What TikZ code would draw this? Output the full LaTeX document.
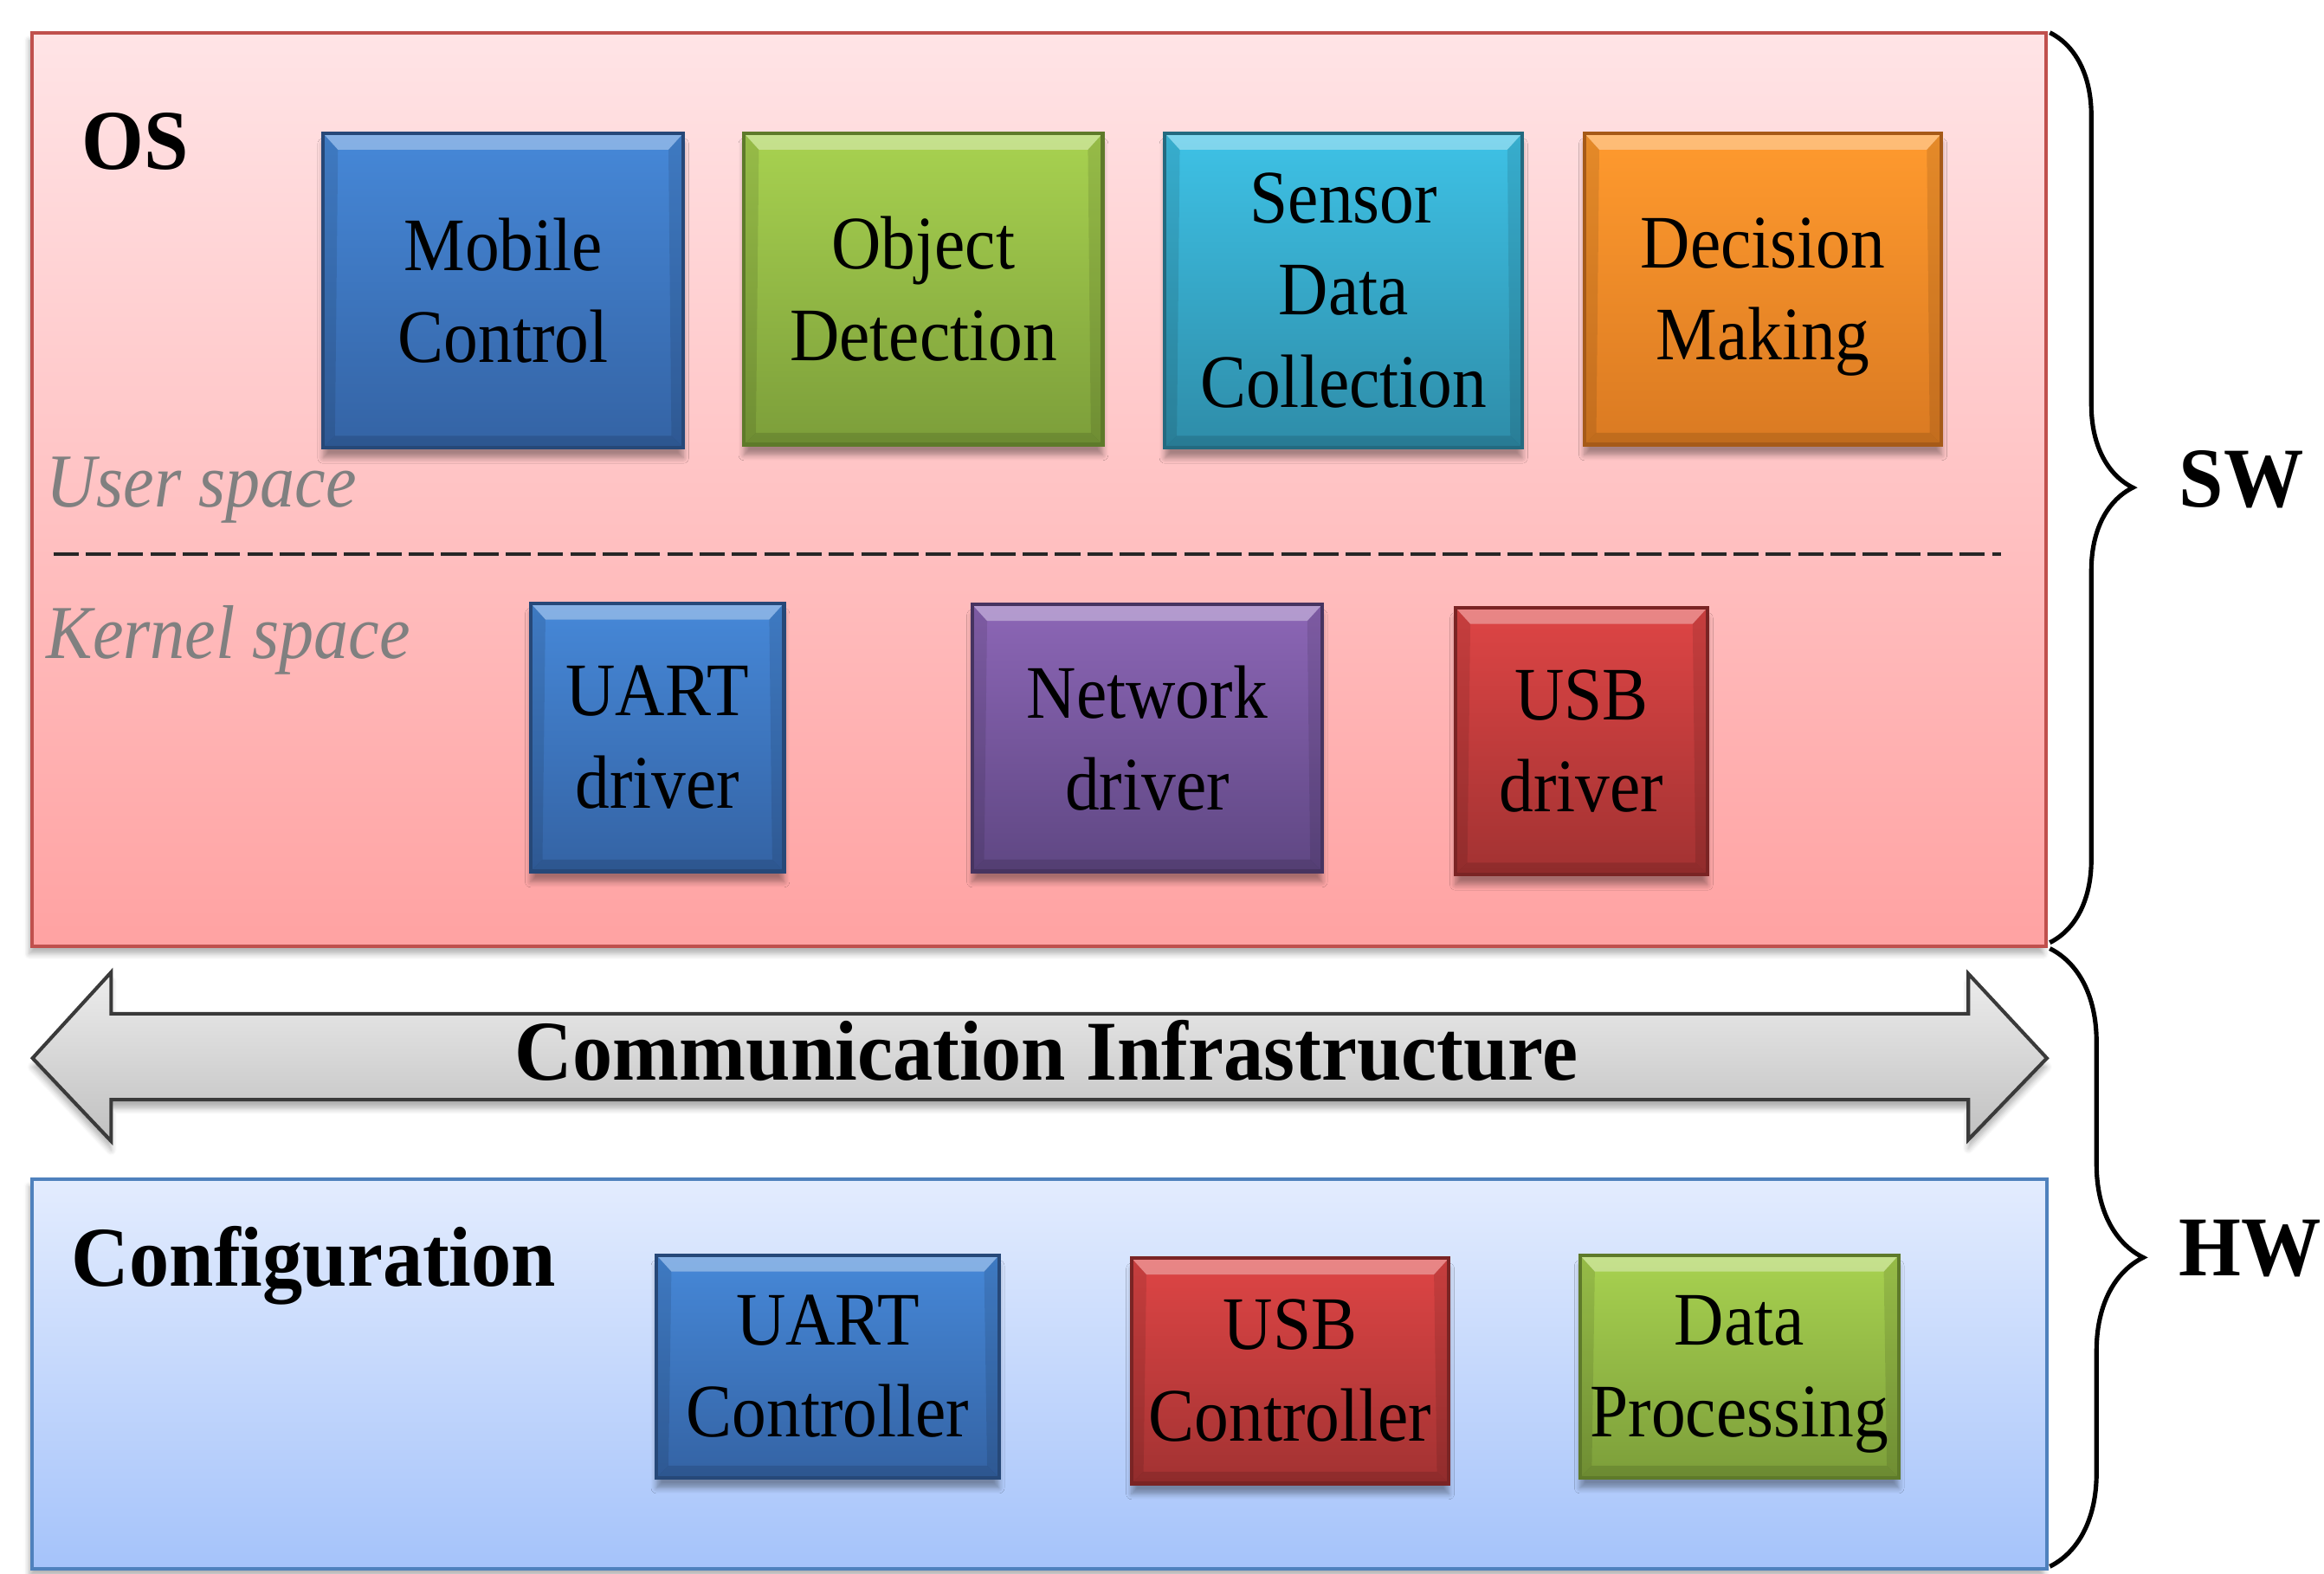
\documentclass[tikz,border=0pt]{standalone}
\usepackage{fontspec}
\setmainfont{Liberation Serif}[FakeStretch=0.91, BoldFeatures={FakeStretch=0.94}]
\usetikzlibrary{shadows.blur,decorations.pathreplacing}

\definecolor{osT}{HTML}{FFE4E6}
\definecolor{osB}{HTML}{FFA2A2}
\definecolor{osD}{HTML}{C0504D}
\definecolor{cfT}{HTML}{E3ECFE}
\definecolor{cfB}{HTML}{A5C3FA}
\definecolor{cfD}{HTML}{4F81BD}
\definecolor{bluT}{HTML}{4688D8}
\definecolor{bluB}{HTML}{3463A4}
\definecolor{bluD}{HTML}{264878}
\definecolor{grnT}{HTML}{A8D250}
\definecolor{grnB}{HTML}{7C9E3A}
\definecolor{grnD}{HTML}{5E7A2A}
\definecolor{cynT}{HTML}{3EC2E6}
\definecolor{cynB}{HTML}{2E8CA8}
\definecolor{cynD}{HTML}{236A80}
\definecolor{orgT}{HTML}{FF9A2E}
\definecolor{orgB}{HTML}{DA7A22}
\definecolor{orgD}{HTML}{A65A18}
\definecolor{purT}{HTML}{8C66B6}
\definecolor{purB}{HTML}{5F4783}
\definecolor{purD}{HTML}{463460}
\definecolor{redT}{HTML}{DE4545}
\definecolor{redB}{HTML}{A23232}
\definecolor{redD}{HTML}{7A2424}
\definecolor{arT}{HTML}{EDEDED}
\definecolor{arB}{HTML}{C0C0C0}
\definecolor{arD}{HTML}{3A3A3A}
\definecolor{lblgray}{HTML}{808080}

\newcommand\boxfont{\fontsize{25.5pt}{31pt}\selectfont}
\newcommand\lblfont{\fontsize{28.7pt}{34pt}\selectfont\bfseries}
\newcommand\itfont{\fontsize{25.7pt}{30pt}\selectfont\itshape}

\tikzset{
  colbox/.style={rectangle, draw=#1D, line width=1.2pt, top color=#1T, bottom color=#1B,
    align=center, inner sep=0pt, font=\boxfont, text=black,
    blur shadow={shadow xshift=0pt, shadow yshift=-3.5pt, shadow blur steps=6, shadow opacity=35},
    path picture={
      \fill[white,opacity=0.35] (path picture bounding box.north west) -- (path picture bounding box.north east)
        -- ([xshift=-5pt,yshift=-5.5pt]path picture bounding box.north east) -- ([xshift=5pt,yshift=-5.5pt]path picture bounding box.north west) -- cycle;
      \fill[black,opacity=0.12] (path picture bounding box.south west) -- (path picture bounding box.south east)
        -- ([xshift=-4pt,yshift=4pt]path picture bounding box.south east) -- ([xshift=4pt,yshift=4pt]path picture bounding box.south west) -- cycle;
      \fill[black,opacity=0.10] (path picture bounding box.north west) -- ([xshift=5pt,yshift=-5.5pt]path picture bounding box.north west)
        -- ([xshift=4pt,yshift=4pt]path picture bounding box.south west) -- (path picture bounding box.south west) -- cycle;
      \fill[black,opacity=0.10] (path picture bounding box.north east) -- ([xshift=-5pt,yshift=-5.5pt]path picture bounding box.north east)
        -- ([xshift=-4pt,yshift=4pt]path picture bounding box.south east) -- (path picture bounding box.south east) -- cycle;
    }},
  bigbox/.style={rectangle, draw=#1D, line width=1.2pt, top color=#1T, bottom color=#1B, inner sep=0pt,
    blur shadow={shadow xshift=-1pt, shadow yshift=-2.5pt, shadow blur steps=6, shadow opacity=30}},
  lbl/.style={inner sep=0pt, font=\lblfont, text=black},
  itlbl/.style={inner sep=0pt, font=\itfont, text=lblgray},
  bracestyle/.style={decorate, line width=1.5pt, black},
  sepline/.style={line width=1.3pt, draw=black!85, dash pattern=on 8.5pt off 2.4pt},
  busarrow/.style={draw=arD, line width=1.2pt, top color=arT, bottom color=arB,
    blur shadow={shadow xshift=0pt, shadow yshift=-3pt, shadow blur steps=6, shadow opacity=30}}
}

\begin{document}
\begin{tikzpicture}[x=0.5pt,y=-0.5pt]
\useasboundingbox (0,0) rectangle (1568,1061.5);

% big areas
\node[bigbox=os, minimum width=679.4pt, minimum height=308.1pt] (os) at (701.2,330.5) {};
\node[bigbox=cf, minimum width=679.6pt, minimum height=131.4pt] (cfg) at (701.4,927.1) {};

% area labels
\node[lbl, anchor=base west] (oslbl) at (55,114) {OS};
\node[itlbl, anchor=base west] (user) at (31,342) {User space};
\node[itlbl, anchor=base west] (kern) at (31,444) {Kernel space};
\node[lbl, anchor=base west] (cfglbl) at (48,868) {Configuration};

% separator
\coordinate (sepl) at (36,374);
\coordinate (sepr) at (1350,374);
\draw[sepline] (sepl) -- (sepr);

% user space blocks
\node[colbox=blu, minimum width=121.5pt, minimum height=106pt] (mob) at (339.5,196) {Mobile\\Control};
\node[colbox=grn, minimum width=121pt, minimum height=105pt] (obj) at (623,195) {Object\\Detection};
\node[colbox=cyn, minimum width=120.5pt, minimum height=106pt] (sen) at (906.5,196) {Sensor\\Data\\Collection};
\node[colbox=org, minimum width=120.5pt, minimum height=105pt] (dec) at (1189.5,195) {Decision\\Makin\smash{g}};

% kernel blocks
\node[colbox=blu, minimum width=85.5pt, minimum height=90.5pt] (uartd) at (443.5,497.5) {UART\\driver};
\node[colbox=pur, minimum width=118pt, minimum height=90pt] (netd) at (774,498) {Network\\driver};
\node[colbox=red, minimum width=85pt, minimum height=90pt] (usbd) at (1067,500) {USB\\driver};

% communication arrow
\path[busarrow] (22,714) -- (75,656) -- (75,684) -- (1328,684) -- (1328,657) -- (1381,714)
  -- (1328,769) -- (1328,742) -- (75,742) -- (75,770) -- cycle;
\node[lbl, anchor=base] (comm) at (706,729) {Communication Infrastructure};

% hardware blocks
\node[colbox=blu, minimum width=115.5pt, minimum height=75pt] (uartc) at (558.5,922) {UART\\Controller};
\node[colbox=red, minimum width=107pt, minimum height=76pt] (usbc) at (870.5,925) {USB\\Controller};
\node[colbox=grn, minimum width=107.5pt, minimum height=75pt] (dp) at (1173.5,922) {Data\\Processin\smash{g}};

% braces
\coordinate (swtop) at (1383,22);
\coordinate (swbot) at (1383,636);
\coordinate (hwtop) at (1383,640);
\coordinate (hwbot) at (1383,1057);
\draw[bracestyle, decoration={brace, amplitude=28pt}] (swtop) -- (swbot);
\draw[bracestyle, decoration={brace, amplitude=31.5pt}] (hwtop) -- (hwbot);
\node[lbl, anchor=base west] (sw) at (1470,342) {SW};
\node[lbl, anchor=base west] (hw) at (1470,861) {HW};
\end{tikzpicture}
\end{document}
